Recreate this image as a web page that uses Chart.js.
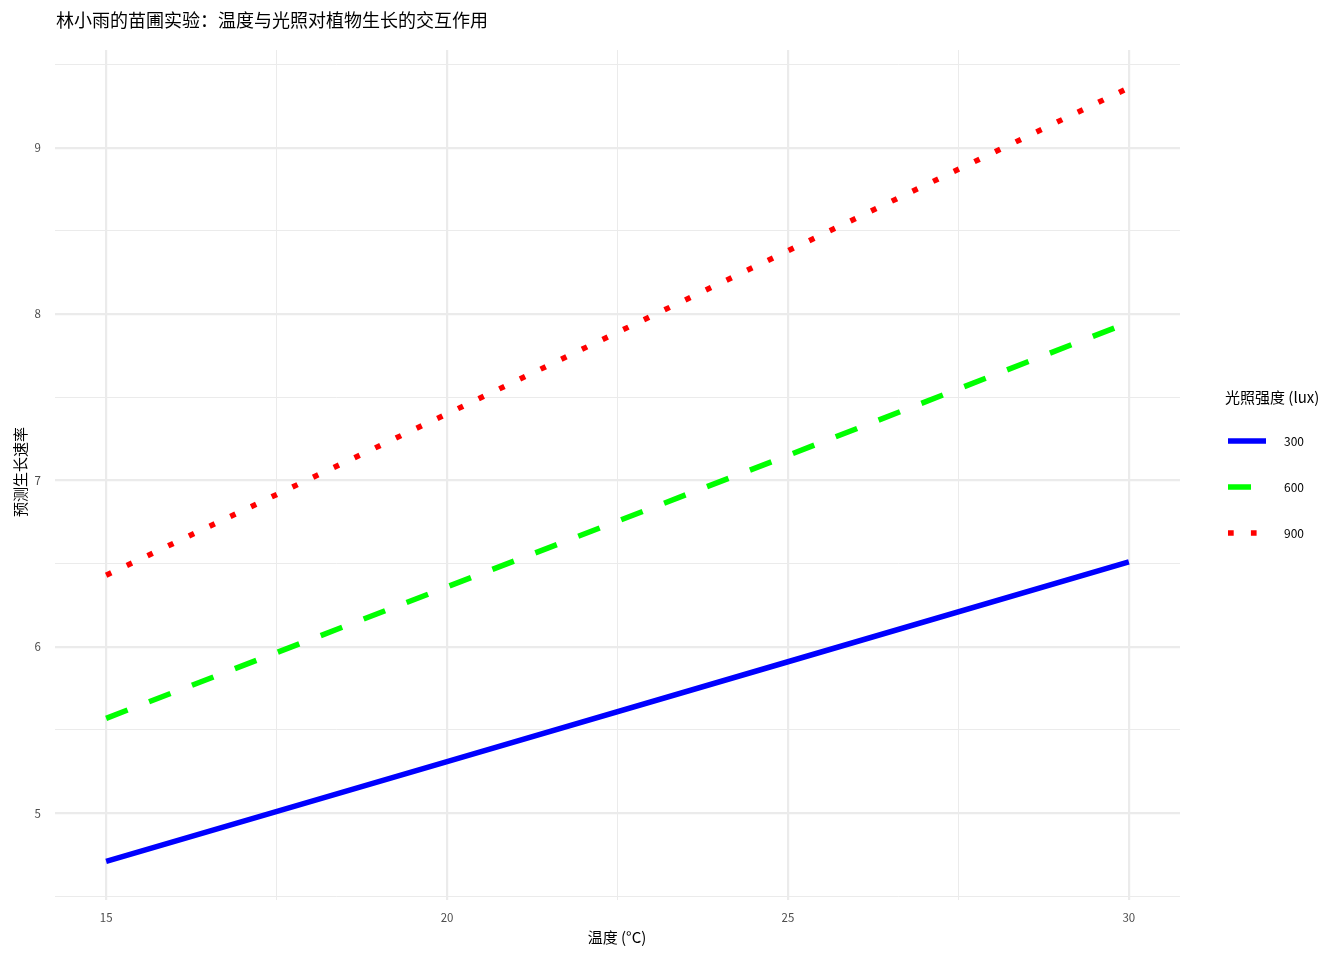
<!DOCTYPE html>
<html>
<head>
<meta charset="utf-8">
<script src="https://cdn.jsdelivr.net/npm/chart.js@4.4.1/dist/chart.umd.min.js"></script>
<style>
  html, body { margin: 0; padding: 0; background: #fff; }
  #wrap { position: relative; width: 1344px; height: 960px; }
</style>
</head>
<body>
<div id="wrap"><canvas id="c" width="1344" height="960"></canvas></div>
<script>
// values
const temps = [15, 20, 25, 30];
const lux300 = [4.71, 5.31, 5.91, 6.51];
const lux600 = [5.57, 6.36, 7.15, 7.95];
const lux900 = [6.43, 7.40, 8.38, 9.36];
const seriesNames = ['300', '600', '900'];
const xTicks = [15, 17.5, 20, 22.5, 25, 27.5, 30];
const yTicks = [4.5, 5, 5.5, 6, 6.5, 7, 7.5, 8, 8.5, 9, 9.5];

const FONT = '"Noto Sans CJK SC", "Noto Sans", sans-serif';
const GRID = '#ebebeb';
const lw = 5.5;

const styles = [
  { color: '#0000ff', dash: [] },
  { color: '#00ff00', dash: [23, 23] },
  { color: '#ff0000', dash: [5.7, 17.2] }
];

const datasets = [lux300, lux600, lux900].map((vals, i) => ({
  label: seriesNames[i],
  data: temps.map((t, j) => ({ x: t, y: vals[j] })),
  borderColor: styles[i].color,
  borderDash: styles[i].dash,
  borderWidth: lw,
  borderCapStyle: 'butt',
  pointRadius: 0,
  fill: false,
  tension: 0
}));

// title, axis titles and the ggplot-style legend, drawn by hand
const decor = {
  id: 'decor',
  afterDraw(chart) {
    const ctx = chart.ctx;
    ctx.save();
    ctx.fillStyle = '#000';
    ctx.textBaseline = 'middle';
    ctx.textAlign = 'left';
    ctx.font = '18px ' + FONT;
    ctx.fillText('林小雨的苗圃实验：温度与光照对植物生长的交互作用', 56, 20);

    ctx.font = '15px ' + FONT;
    ctx.textAlign = 'center';
    ctx.fillText('温度 (°C)', 617, 937);
    ctx.save();
    ctx.translate(20, 472);
    ctx.rotate(-Math.PI / 2);
    ctx.fillText('预测生长速率', 0, 0);
    ctx.restore();

    ctx.textAlign = 'left';
    ctx.fillText('光照强度 (lux)', 1225, 397);
    chart.data.datasets.forEach((ds, i) => {
      const y = 441 + i * 46;
      ctx.strokeStyle = ds.borderColor;
      ctx.lineWidth = lw;
      ctx.lineCap = 'butt';
      ctx.setLineDash(ds.borderDash);
      ctx.beginPath();
      ctx.moveTo(1228, y);
      ctx.lineTo(1266, y);
      ctx.stroke();
      ctx.setLineDash([]);
      ctx.fillStyle = '#000';
      ctx.font = '12px ' + FONT;
      ctx.fillText(ds.label, 1284, y);
    });
    ctx.restore();
  }
};

const isMajor = (v) => Math.abs(v - Math.round(v)) < 1e-6;

new Chart(document.getElementById('c'), {
  type: 'line',
  data: { datasets },
  options: {
    responsive: false,
    animation: false,
    layout: { padding: { left: 0, right: 164, top: 50, bottom: 0 } },
    plugins: {
      legend: { display: false },
      tooltip: { enabled: false },
      title: { display: false }
    },
    scales: {
      x: {
        type: 'linear',
        min: 14.25,
        max: 30.75,
        afterBuildTicks: (s) => { s.ticks = xTicks.map((v) => ({ value: v })); },
        afterFit: (s) => { s.height = 60; },
        border: { display: false },
        grid: {
          color: GRID,
          lineWidth: (c) => (c.tick && c.tick.value % 5 === 0 ? 2.2 : 1),
          drawTicks: false
        },
        ticks: {
          autoSkip: false,
          maxRotation: 0,
          padding: 11,
          color: '#4d4d4d',
          font: { family: FONT, size: 11.5 },
          callback: (v) => (v % 5 === 0 ? String(v) : '')
        }
      },
      y: {
        type: 'linear',
        min: 4.478,
        max: 9.587,
        afterBuildTicks: (s) => { s.ticks = yTicks.map((v) => ({ value: v })); },
        afterFit: (s) => { s.width = 55; },
        border: { display: false },
        grid: {
          color: GRID,
          lineWidth: (c) => (c.tick && isMajor(c.tick.value) ? 2.2 : 1),
          drawTicks: false
        },
        ticks: {
          autoSkip: false,
          padding: 14,
          color: '#4d4d4d',
          font: { family: FONT, size: 11.5 },
          callback: (v) => (isMajor(v) ? String(v) : '')
        }
      }
    }
  },
  plugins: [decor]
});
</script>
</body>
</html>
